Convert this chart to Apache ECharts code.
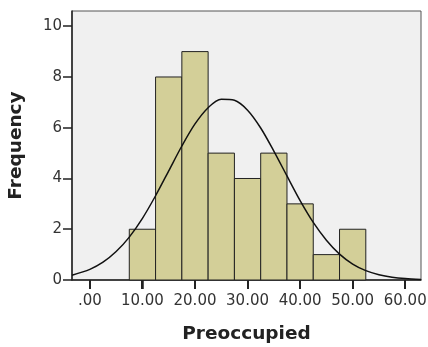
<!DOCTYPE html>
<html>
<head>
<meta charset="utf-8">
<script src="https://cdn.jsdelivr.net/npm/echarts@6/dist/echarts.min.js"></script>
<style>
  html, body { margin: 0; padding: 0; background: #fff; }
  #chart { width: 428px; height: 347px; }
</style>
</head>
<body>
<div id="chart"></div>
<script>
// histogram bins (centre of each bin, width 5)
const binCentres = [10, 15, 20, 25, 30, 35, 40, 45, 50];
const binCounts = [2, 8, 9, 5, 4, 5, 3, 1, 2];
const binWidth = 5;

// normal curve
const curveX = [-3.4, 0, 2.5, 5, 7.5, 10, 12.5, 15, 17.5, 20, 22.5, 25, 27.5, 30,
  32.5, 35, 37.5, 40, 42.5, 45, 47.5, 50, 52.5, 55, 57.5, 60, 63];
const curveY = [0.19, 0.42, 0.7, 1.12, 1.69, 2.43, 3.32, 4.3, 5.28, 6.15, 6.79, 7.12, 7.08, 6.69,
  5.99, 5.08, 4.1, 3.13, 2.27, 1.57, 1.02, 0.63, 0.37, 0.21, 0.11, 0.055, 0.02];

const xTicks = [0, 10, 20, 30, 40, 50, 60];

const dom = document.getElementById("chart");
const myChart = echarts.init(dom);

const barData = binCentres.map((c, i) => [c - binWidth / 2, c + binWidth / 2, binCounts[i]]);
const lineData = curveX.map((x, i) => [x, curveY[i]]);

const font = "DejaVu Sans";

// layout of the plot box
const W = 428;
const gLeft = 72;
const gRight = 7;
const xMin = -3.4;
const xMax = 63;
const pxPerUnit = (W - gLeft - gRight) / (xMax - xMin);

const option = {
  animation: false,
  grid: [
    {
      left: gLeft,
      top: 11,
      right: gRight,
      bottom: 67,
      outerBoundsMode: "none",
      show: true,
      backgroundColor: "#f0f0f0",
      borderColor: "#555",
      borderWidth: 1,
    },
    {
      // same plot, spanning only 0..60 so the tick axis starts on a multiple of 10
      left: gLeft + (xTicks[0] - xMin) * pxPerUnit,
      right: gRight + (xMax - xTicks[xTicks.length - 1]) * pxPerUnit,
      top: 11,
      bottom: 67,
      outerBoundsMode: "none",
      show: false,
    },
  ],
  xAxis: [
    {
      type: "value",
      gridIndex: 0,
      min: xMin,
      max: xMax,
      name: "Preoccupied",
      nameLocation: "middle",
      nameGap: 45,
      nameTextStyle: { fontFamily: font, fontSize: 18.5, fontWeight: "bold", color: "#222" },
      axisLine: { show: true, onZero: false, lineStyle: { color: "#222", width: 1.5 } },
      axisTick: { show: false },
      axisLabel: { show: false },
      splitLine: { show: false },
    },
    {
      type: "value",
      gridIndex: 1,
      min: xTicks[0],
      max: xTicks[xTicks.length - 1],
      interval: 10,
      axisLine: { show: false, onZero: false },
      axisTick: { show: true, inside: false, length: 9, lineStyle: { color: "#222", width: 1.5 } },
      axisLabel: {
        fontFamily: font,
        fontSize: 15,
        color: "#333",
        margin: 14,
        formatter: (v) => (v === 0 ? ".00" : v.toFixed(2)),
      },
      splitLine: { show: false },
    },
  ],
  yAxis: [
    {
      type: "value",
      gridIndex: 0,
      min: 0,
      max: 10.6,
      interval: 2,
      name: "Frequency",
      nameLocation: "middle",
      nameGap: 46,
      nameTextStyle: { fontFamily: font, fontSize: 18.5, fontWeight: "bold", color: "#222" },
      axisLine: { show: true, onZero: false, lineStyle: { color: "#222", width: 1.5 } },
      axisTick: { show: true, length: 9, lineStyle: { color: "#222", width: 1.5 } },
      axisLabel: {
        showMaxLabel: false,
        fontFamily: font,
        fontSize: 15,
        color: "#333",
        margin: 10,
      },
      splitLine: { show: false },
    },
    {
      type: "value",
      gridIndex: 1,
      min: 0,
      max: 10.6,
      show: false,
    },
  ],
  series: [
    {
      type: "custom",
      xAxisIndex: 0,
      yAxisIndex: 0,
      data: barData,
      renderItem: (params, api) => {
        const p0 = api.coord([api.value(0), api.value(2)]);
        const p1 = api.coord([api.value(1), 0]);
        return {
          type: "rect",
          shape: { x: p0[0], y: p0[1], width: p1[0] - p0[0], height: p1[1] - p0[1] },
          style: { fill: "#d3cf98", stroke: "#222", lineWidth: 1 },
        };
      },
      encode: { x: [0, 1], y: 2 },
      z: 2,
    },
    {
      type: "line",
      xAxisIndex: 0,
      yAxisIndex: 0,
      data: lineData,
      smooth: 0.3,
      symbol: "none",
      lineStyle: { color: "#111", width: 1.5 },
      z: 3,
    },
  ],
};

option && myChart.setOption(option);

// extra tick marks under the x axis, placed with the chart's own x scale
const tickMarks = xTicks.map((v) => {
  const p = myChart.convertToPixel({ xAxisIndex: 0, yAxisIndex: 0 }, [v, 0]);
  return {
    type: "rect",
    left: Math.round(p[0] - 1),
    top: Math.round(p[1]),
    shape: { x: 0, y: 0, width: 2, height: 9 },
    style: { fill: "#222" },
    z: 100,
  };
});
myChart.setOption({ graphic: { elements: tickMarks } });
</script>
</body>
</html>
